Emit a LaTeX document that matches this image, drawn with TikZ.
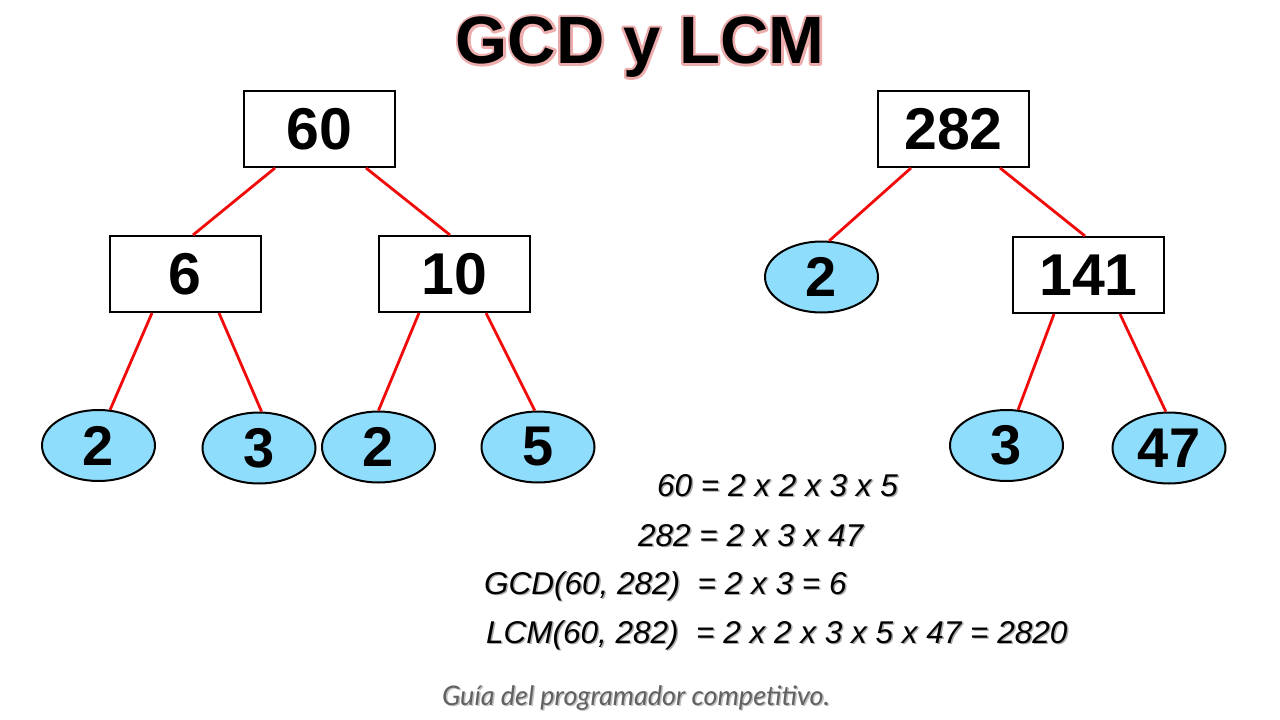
\documentclass[tikz,border=0pt]{standalone}
\usepackage{fontspec}
\setmainfont{Liberation Sans}
\newfontfamily\footfont{Lato}
\usetikzlibrary{shapes.geometric,calc}
\definecolor{ovalblue}{RGB}{143,221,252}
\definecolor{linered}{RGB}{240,10,10}
\definecolor{shade}{RGB}{170,170,170}
\newcommand{\halotext}[1]{%
  \rlap{\special{pdf:literal direct 1 Tr 5 w 1 J 1 j 0.93 0.68 0.68 RG}#1\special{pdf:literal direct 0 Tr 0 G}}%
  #1}
\newcommand{\shadowtext}[1]{\rlap{\color{shade}\kern1.5pt\raisebox{-1.5pt}{#1}}#1}
\tikzset{
  numbox/.style={draw=black, line width=2pt, fill=white, minimum width=151pt, minimum height=76pt, inner sep=0pt,
    font=\fontsize{59}{61}\selectfont\bfseries},
  oval/.style={ellipse, draw=black, line width=2pt, fill=ovalblue, minimum width=113pt, minimum height=71pt, inner sep=0pt,
    font=\fontsize{56}{58}\selectfont\bfseries},
  edge/.style={draw=linered, line width=2.8pt},
  eq/.style={anchor=base west, inner sep=0pt, font=\fontsize{31.5}{33}\selectfont\itshape},
}
\begin{document}
\begin{tikzpicture}[x=1pt,y=-1pt]
\useasboundingbox[fill=white] (0,0) rectangle (1280,720);
\node[inner sep=0pt, font=\fontsize{67}{70}\selectfont\bfseries] (title) at (640,47) {\halotext{GCD y LCM}};
% left tree
\node[numbox] (n60) at (319.5,129) {60};
\node[numbox] (n6) at (185,274) {6};
\node[numbox] (n10) at (454.5,274) {10};
\node[oval] (a2) at (98.5,445.5) {2};
\node[oval] (a3) at (259,448) {3};
\node[oval] (b2) at (378.5,447) {2};
\node[oval] (b5) at (538,447) {5};
% right tree
\node[numbox] (n282) at (953.5,129) {282};
\node[oval] (c2) at (821.5,277) {2};
\node[numbox] (n141) at (1088.5,275) {141};
\node[oval] (d3) at (1006.5,445.5) {3};
\node[oval] (d47) at (1169,448) {47};
% edges
\draw[edge] ($(n60.south)+(-44.5,0)$) -- ($(n6.north)+(8,0)$);
\draw[edge] ($(n60.south)+(46.5,0)$) -- ($(n10.north)+(-4.5,0)$);
\draw[edge] ($(n6.south)+(-33,0)$) -- (a2.72);
\draw[edge] ($(n6.south)+(34,0)$) -- (a3.86);
\draw[edge] ($(n10.south)+(-35.5,0)$) -- (b2.90);
\draw[edge] ($(n10.south)+(31.5,0)$) -- (b5.95);
\draw[edge] ($(n282.south)+(-42.5,0)$) -- (c2.78);
\draw[edge] ($(n282.south)+(46.5,0)$) -- ($(n141.north)+(-3.5,0)$);
\draw[edge] ($(n141.south)+(-34.5,0)$) -- (d3.72);
\draw[edge] ($(n141.south)+(31.5,0)$) -- (d47.95);
% equations
\node[eq] (e1) at (657,496) {\shadowtext{60 = 2 x 2 x 3 x 5}};
\node[eq] (e2) at (638,546) {\shadowtext{282 = 2 x 3 x 47}};
\node[eq] (e3) at (484,594) {\shadowtext{GCD(60, 282)\ \ = 2 x 3 = 6}};
\node[eq] (e4) at (486,643) {\shadowtext{LCM(60, 282)\ \ = 2 x 2 x 3 x 5 x 47 = 2820}};
% footer
\node[anchor=base, inner sep=0pt, font=\footfont\fontsize{27}{29}\selectfont\itshape, text=black!62] (foot) at (636,705)
  {\rlap{\color{black!25}\kern1.5pt\raisebox{-1.5pt}{Guía del programador competitivo.}}Guía del programador competitivo.};
\end{tikzpicture}
\end{document}
